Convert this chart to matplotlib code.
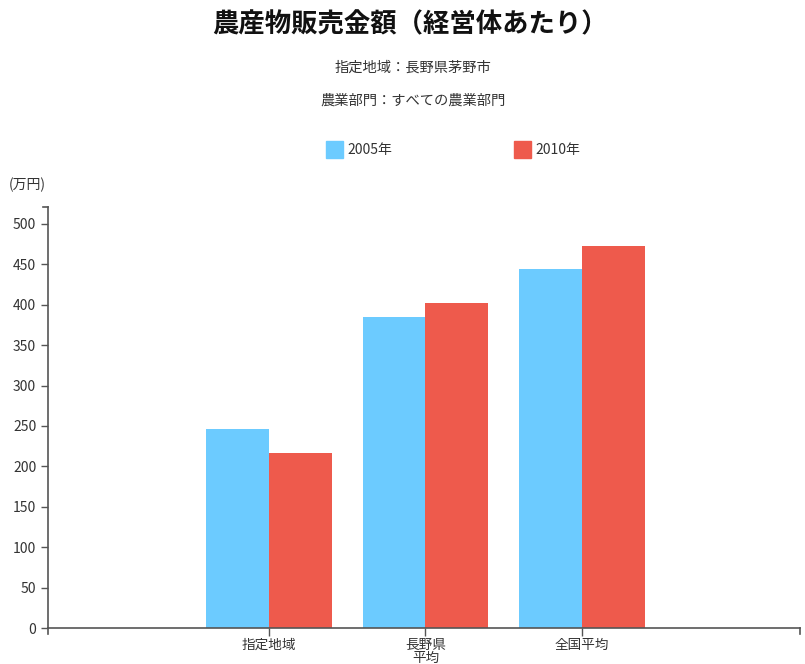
import matplotlib
matplotlib.use("Agg")
import matplotlib.pyplot as plt
import numpy as np

plt.rcParams['font.family'] = ['Noto Sans CJK JP', 'DejaVu Sans']

categories = ["指定地域", "長野県\n平均", "全国平均"]
series_names = ["2005年", "2010年"]
values_2005 = [246, 385, 444]
values_2010 = [217, 402, 473]
colors = ["#6CCBFF", "#EE5A4C"]

W, H = 805, 664
fig = plt.figure(figsize=(W / 100, H / 100), dpi=100)
ax = fig.add_axes([48 / W, (H - 628) / H, 752 / W, (628 - 207) / H])

x = np.arange(len(categories))
bw = 0.4
ax.bar(x - bw / 2, values_2005, width=bw, color=colors[0], label=series_names[0])
ax.bar(x + bw / 2, values_2010, width=bw, color=colors[1], label=series_names[1])

ax.set_xlim(-1.412, 3.393)
ax.set_ylim(0, 521)
ax.set_yticks(np.arange(0, 501, 50))
ax.set_xticks(x)
ax.set_xticklabels(categories, fontsize=9.8, color="#333333", linespacing=0.95)
ax.tick_params(axis='y', labelsize=10, labelcolor="#333333", color="#555555", length=5, width=1)
ax.tick_params(axis='x', color="#555555", length=6, width=1, pad=1)
for s in ["top", "right"]:
    ax.spines[s].set_visible(False)
for s in ["left", "bottom"]:
    ax.spines[s].set_color("#555555")
    ax.spines[s].set_linewidth(1.2)

# outer ticks at axis ends
trans_l = ax.get_yaxis_transform()
ax.plot([-0.006, 0], [521, 521], color="#555555", lw=1.2, clip_on=False, transform=trans_l)
trans_b = ax.get_xaxis_transform()
ax.plot([-1.412, -1.412], [0, -0.014], color="#555555", lw=1.2, clip_on=False, transform=trans_b)
ax.plot([3.393, 3.393], [0, -0.014], color="#555555", lw=1.2, clip_on=False, transform=trans_b)

fig.text(410 / W, 1 - 25 / H, "農産物販売金額（経営体あたり）", ha="center", va="center",
         fontsize=19, fontweight="bold", color="#111111")
fig.text(413 / W, 1 - 68 / H, "指定地域：長野県茅野市", ha="center", va="center", fontsize=10.3, color="#333333")
fig.text(413 / W, 1 - 101 / H, "農業部門：すべての農業部門", ha="center", va="center", fontsize=10.3, color="#333333")
fig.text(9 / W, 1 - 185 / H, "(万円)", ha="left", va="center", fontsize=10, color="#333333")

# legend
for name, c, lx in zip(series_names, colors, [326, 514]):
    fig.patches.append(plt.Rectangle((lx / W, 1 - 158 / H), 17 / W, 17 / H, color=c, transform=fig.transFigure))
    fig.text((lx + 21) / W, 1 - 150 / H, name, ha="left", va="center", fontsize=10, color="#333333")

fig.savefig("out.png", dpi=100)
